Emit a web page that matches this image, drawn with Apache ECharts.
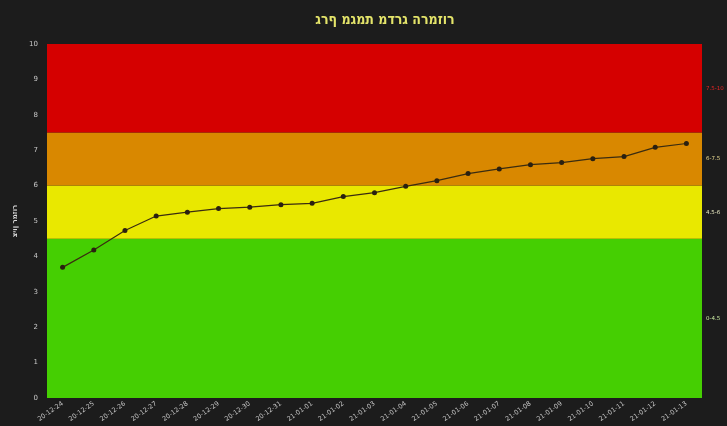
<!DOCTYPE html>
<html>
<head>
<meta charset="utf-8">
<script src="https://cdn.jsdelivr.net/npm/echarts@6/dist/echarts.min.js"></script>
<style>html,body{margin:0;padding:0;background:#1c1c1c;}#c{width:727px;height:426px;}</style>
</head>
<body>
<div id="c"></div>
<script>
var titleText = 'גרף מגמת מדרג הרמזור';
var yAxisName = 'ציון רמזור';
var categories = ['20-12-24','20-12-25','20-12-26','20-12-27','20-12-28','20-12-29','20-12-30','20-12-31','21-01-01','21-01-02','21-01-03','21-01-04','21-01-05','21-01-06','21-01-07','21-01-08','21-01-09','21-01-10','21-01-11','21-01-12','21-01-13'];
var values = [3.69, 4.18, 4.73, 5.14, 5.25, 5.35, 5.39, 5.46, 5.5, 5.69, 5.8, 5.98, 6.14, 6.34, 6.47, 6.59, 6.65, 6.76, 6.82, 7.08, 7.19];
var bandFrom = [0, 4.5, 6, 7.5];
var bandTo = [4.5, 6, 7.5, 10];
var bandNames = ['0-4.5', '4.5-6', '6-7.5', '7.5-10'];
var bandColors = ['#45cf02', '#e9e800', '#d98800', '#d50000'];
var bandLabelColors = ['#c8e8a0', '#e8e8c0', '#e8d890', '#e02424'];

// The reference draws its Hebrew glyphs left-to-right; force that visual order.
function ltr(s) { return '\u202D' + s + '\u202C'; }

var areas = bandFrom.map(function (f, i) {
  return [{
    yAxis: f, name: bandNames[i],
    itemStyle: { color: bandColors[i], opacity: 1 },
    label: { color: bandLabelColors[i] }
  }, { yAxis: bandTo[i] }];
});

var chart = echarts.init(document.getElementById('c'));
chart.setOption({
  backgroundColor: '#1c1c1c',
  animation: false,
  title: {
    text: ltr(titleText), left: 380, top: 8, textAlign: 'center',
    textStyle: { color: '#e4e46a', fontSize: 14, fontWeight: 'bold', fontFamily: 'DejaVu Sans Condensed, DejaVu Sans' }
  },
  grid: { left: 47, right: 25, top: 44, bottom: 28 },
  xAxis: {
    type: 'category', data: categories, boundaryGap: true,
    axisLine: { show: false }, axisTick: { show: false },
    axisLabel: { rotate: 35, color: '#c8c8c8', fontSize: 6.5, margin: 5, interval: 0, fontFamily: 'DejaVu Sans' }
  },
  yAxis: {
    type: 'value', min: 0, max: 10, interval: 1,
    name: ltr(yAxisName), nameLocation: 'middle', nameGap: 12, nameRotate: 90,
    nameTextStyle: { color: '#d8d8d8', fontSize: 7, fontWeight: 'bold', fontFamily: 'DejaVu Sans' },
    axisLine: { show: false }, axisTick: { show: false }, splitLine: { show: false },
    axisLabel: { color: '#c8c8c8', fontSize: 7, margin: 9, fontFamily: 'DejaVu Sans' }
  },
  series: [{
    type: 'line', data: values,
    symbol: 'circle', symbolSize: 5,
    lineStyle: { color: '#3a2c10', width: 1.2 },
    itemStyle: { color: '#2a2010' },
    z: 5,
    markArea: {
      silent: true,
      label: { show: true, position: 'right', distance: 4, fontSize: 5.5, fontFamily: 'DejaVu Sans' },
      data: areas
    }
  }]
});
</script>
</body>
</html>
